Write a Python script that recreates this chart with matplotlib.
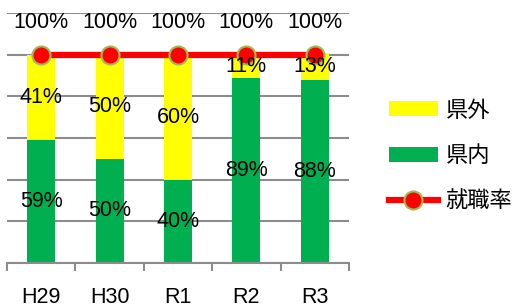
import numpy as np
import matplotlib
matplotlib.use("Agg")
import matplotlib.pyplot as plt
from matplotlib.patches import Patch
from matplotlib.lines import Line2D

plt.rcParams['font.family'] = ['Liberation Sans', 'Noto Sans CJK JP', 'DejaVu Sans']

years = ["H29", "H30", "R1", "R2", "R3"]
kennai = [59, 50, 40, 89, 88]
kengai = [41, 50, 60, 11, 13]
rate = [100, 100, 100, 100, 100]

YELLOW = "#FFFF00"
GREEN = "#00B050"
RED = "#FF0000"
EDGE = "#9BBB59"
GRID = "#8C8C8C"

fig = plt.figure(figsize=(5.19, 3.07), dpi=100)
ax = fig.add_axes([0.0135, 0.1433, 0.659, 0.814])

x = np.arange(len(years))
w = 0.41
ax.bar(x, kennai, w, color=GREEN, zorder=2)
ax.bar(x, kengai, w, bottom=kennai, color=YELLOW, zorder=2)
ax.plot(x, rate, color=RED, lw=4.5, marker="o", ms=13,
        mfc=RED, mec=EDGE, mew=1.5, zorder=4)

for i in range(len(years)):
    ax.text(x[i], kennai[i] / 2, f"{kennai[i]}%", ha="center", va="center",
            fontsize=15.5, zorder=5)
    ax.text(x[i], kennai[i] + kengai[i] / 2, f"{kengai[i]}%", ha="center",
            va="center", fontsize=15.5, zorder=5)
    ax.annotate(f"{rate[i]}%", (x[i], rate[i]), xytext=(0, 23),
                textcoords="offset points", ha="center", va="center",
                fontsize=15.5)

ax.set_xlim(-0.5, len(years) - 0.5)
ax.set_ylim(0, 120)
ax.set_yticks(np.arange(0, 121, 20))
ax.yaxis.grid(True, color=GRID, lw=1.5, zorder=0)
ax.set_axisbelow(True)
ax.tick_params(axis="y", left=False, labelleft=False)
ax.set_xticks(x)
ax.set_xticklabels(years, fontsize=15.5)
ax.set_xticks(np.arange(-0.5, len(years)), minor=True)
ax.tick_params(axis="x", which="major", length=0, pad=17)
ax.tick_params(axis="x", which="minor", length=6, width=1.5, color=GRID)
for s in ["top", "right", "left"]:
    ax.spines[s].set_visible(False)
ax.spines["bottom"].set_color(GRID)
ax.spines["bottom"].set_linewidth(1.5)

handles = [
    Patch(facecolor=YELLOW, label="県外"),
    Patch(facecolor=GREEN, label="県内"),
    Line2D([0], [0], color=RED, lw=4.5, marker="o", ms=13, mfc=RED,
           mec=EDGE, mew=1.5, label="就職率"),
]
fig.legend(handles=handles, loc="center left", bbox_to_anchor=(0.728, 0.49),
           frameon=False, fontsize=16, handlelength=2.2, handleheight=0.68,
           handletextpad=0.35, labelspacing=1.1, borderpad=0)

fig.savefig("out.png", dpi=100)
